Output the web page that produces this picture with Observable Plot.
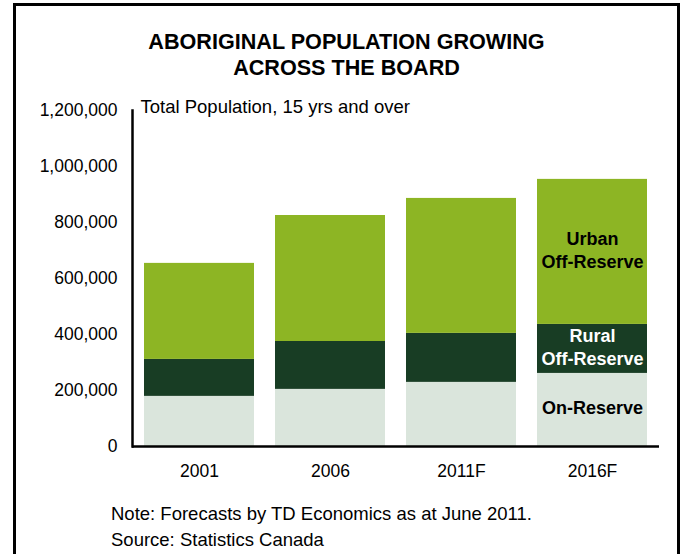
<!DOCTYPE html>
<html>
<head>
<meta charset="utf-8">
<script src="https://cdn.jsdelivr.net/npm/d3@7"></script>
<script src="https://cdn.jsdelivr.net/npm/@observablehq/plot@0.6"></script>
<style>
  html, body { margin: 0; padding: 0; background: #fff; }
  body { width: 681px; height: 554px; overflow: hidden; position: relative; font-family: "Liberation Sans", Arial, sans-serif; }
  #frame { position: absolute; left: 13px; top: 3px; width: 661px; height: 570px; border: 3px solid #000; box-sizing: content-box; }
  #title { position: absolute; left: 16px; width: 661px; top: 29px; text-align: center; font-weight: bold; font-size: 21.6px; line-height: 26px; color: #000; }
  #chart { position: absolute; left: 0; top: 90px; }
  #notes { position: absolute; left: 111px; top: 501px; font-size: 18.5px; line-height: 26px; color: #000; }
</style>
</head>
<body>
<div id="frame"></div>
<div id="title">ABORIGINAL POPULATION GROWING<br>ACROSS THE BOARD</div>
<div id="chart"></div>
<div id="notes">Note: Forecasts by TD Economics as at June 2011.<br>Source: Statistics Canada</div>
<script>
const years = ["2001", "2006", "2011F", "2016F"];
const series = ["On-Reserve", "Rural Off-Reserve", "Urban Off-Reserve"];
const onReserve = [179000, 204000, 229000, 261000];
const ruralOff = [132000, 171000, 175000, 175000];
const urbanOff = [343000, 450000, 482000, 518000];
const yTicks = [0, 200000, 400000, 600000, 800000, 1000000, 1200000];
const colors = ["#dae5dc", "#183d24", "#8db524"];
const labelText = ["On-Reserve", "Rural\nOff-Reserve", "Urban\nOff-Reserve"];
const labelColors = ["#000", "#fff", "#000"];
const axisNote = "Total Population, 15 yrs and over";

const values = [onReserve, ruralOff, urbanOff];
const data = [];
years.forEach((yr, i) => {
  series.forEach((s, j) => {
    data.push({year: yr, series: s, value: values[j][i], label: labelText[j], labelColor: labelColors[j]});
  });
});
const lastYear = years[years.length - 1];

const chart = Plot.plot({
  width: 681,
  height: 400,
  marginLeft: 132,
  marginRight: 22,
  marginTop: 20,
  marginBottom: 44,
  style: {fontFamily: "'Liberation Sans', Arial, sans-serif", fontSize: "17.5px", color: "#000", background: "transparent"},
  x: {domain: years, paddingInner: 0.16, paddingOuter: 0.08, label: null, tickSize: 0, tickPadding: 18},
  y: {domain: [0, 1200000], ticks: yTicks, tickFormat: d3.format(","), label: null, tickSize: 0, tickPadding: 15},
  color: {domain: series, range: colors},
  marks: [
    Plot.barY(data, {x: "year", y: "value", fill: "series"}),
    Plot.frame({anchor: "left", stroke: "#000", strokeWidth: 2.5}),
    Plot.ruleY([0], {stroke: "#000", strokeWidth: 2.5}),
    Plot.text(data, Plot.stackY({
      filter: d => d.year === lastYear,
      x: "year", y: "value", text: "label", fill: "labelColor",
      fontWeight: "bold", fontSize: 18, lineHeight: 1.28, dy: -3
    })),
    Plot.text([axisNote], {frameAnchor: "top-left", dx: 8, dy: -11, textAnchor: "start", fontSize: 18.5})
  ]
});
document.getElementById("chart").appendChild(chart);
</script>
</body>
</html>
